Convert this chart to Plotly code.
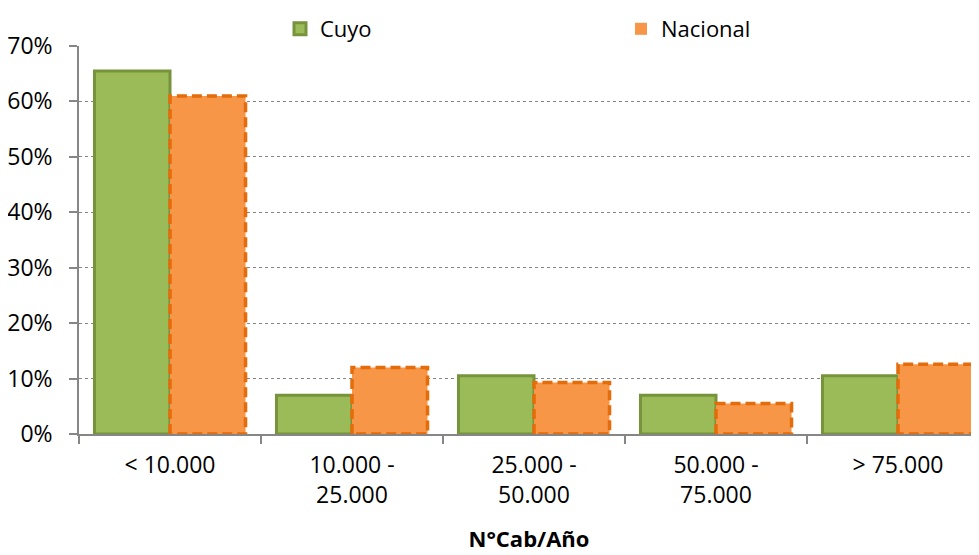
import plotly.graph_objects as go

# data
categories = ["< 10.000", "10.000 -<br>25.000", "25.000 -<br>50.000", "50.000 -<br>75.000", "> 75.000"]
cuyo = [0.655, 0.070, 0.105, 0.070, 0.105]
nacional = [0.610, 0.120, 0.093, 0.055, 0.126]
y_ticks = [0, 0.1, 0.2, 0.3, 0.4, 0.5, 0.6, 0.7]

GREEN = "#9BBB59"
GREEN_LINE = "#77933C"
ORANGE = "#F79646"
ORANGE_LINE = "#E46C0A"
GRID = "#868686"
FONT = "Open Sans"

# the page body adds an 8px margin around the figure
W, H = 979 - 8, 555 - 8

bargap = 0.17
bar_w = (1 - bargap) / 2
pos = list(range(len(categories)))

fig = go.Figure()
fig.add_trace(go.Bar(
    x=pos, y=cuyo, name="Cuyo",
    marker=dict(color=GREEN, line=dict(color=GREEN_LINE, width=3)),
))
fig.add_trace(go.Bar(
    x=pos, y=nacional, name="Nacional",
    marker=dict(color=ORANGE, line=dict(color=ORANGE_LINE, width=0)),
))

# dashed outline of the Nacional bars (bar lines cannot be dashed)
ox, oy = [], []
for i, v in zip(pos, nacional):
    x0, x1 = i, i + bar_w
    ox += [x0, x0, x1, x1, x0, None]
    oy += [0, v, v, 0, 0, None]
fig.add_trace(go.Scatter(
    x=ox, y=oy, mode="lines", showlegend=False, hoverinfo="skip",
    line=dict(color=ORANGE_LINE, width=3.5, dash="10px,5px"),
))

left = 71
plot_w = W - left
cat_px = 182
fig.update_xaxes(
    range=[-0.5, -0.5 + plot_w / cat_px],
    tickvals=pos, ticktext=categories, ticks="",
    showline=True, linecolor=GRID, linewidth=1.5,
    showgrid=False, zeroline=False, automargin=False,
    tickfont=dict(family=FONT, size=23, color="#000"),
    ticklabelstandoff=10,
    minor=dict(tick0=0.5, dtick=1, ticks="outside", ticklen=8,
               tickcolor=GRID, tickwidth=1.5, showgrid=False),
    title=dict(text="<b>N°Cab/Año</b>", font=dict(family=FONT, size=22, color="#000"),
               standoff=22),
)
fig.update_yaxes(
    range=[0, 0.7], tickvals=y_ticks, tickformat=".0%",
    ticks="outside", ticklen=8, tickcolor=GRID, tickwidth=1.5,
    showline=True, linecolor=GRID, linewidth=1.5,
    showgrid=True, gridcolor=GRID, gridwidth=1, griddash="dot",
    zeroline=False, automargin=False,
    tickfont=dict(family=FONT, size=23, color="#000"),
    ticklabelstandoff=12,
)
fig.update_layout(
    width=W, height=H,
    margin=dict(l=left, r=0, t=38, b=121, autoexpand=False),
    barmode="group", bargap=bargap, bargroupgap=0,
    plot_bgcolor="white", paper_bgcolor="white",
    font=dict(family=FONT, color="#000"),
    legend=dict(
        orientation="h", xref="container", yref="container",
        x=272 / W, y=1, xanchor="left", yanchor="top",
        entrywidth=296, entrywidthmode="pixels",
        font=dict(family=FONT, size=22, color="#000"),
    ),
)

fig.write_html("out.html")
